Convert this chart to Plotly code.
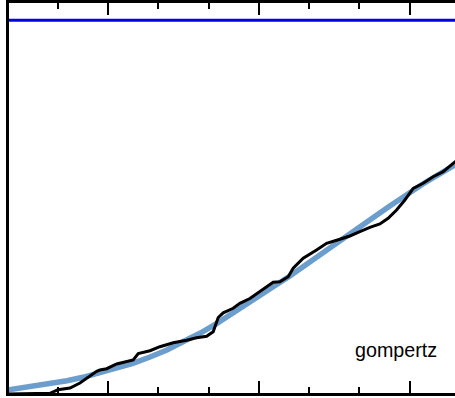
import plotly.graph_objects as go

# x in minor-tick units (left frame = 0), y as fraction (blue reference line = 1)
obs_x = [0.0, 0.447, 0.845, 1.004, 1.243, 1.441, 1.640, 1.773, 1.839, 1.972,
         2.171, 2.370, 2.501, 2.600, 2.700, 2.833, 3.032, 3.296, 3.563, 3.761,
         3.960, 4.091, 4.191, 4.290, 4.489, 4.622, 4.821, 4.986, 5.153, 5.284,
         5.417, 5.583, 5.682, 5.815, 5.881, 6.147, 6.346, 6.610, 6.809, 7.008,
         7.207, 7.406, 7.570, 7.738, 7.903, 8.068, 8.266, 8.465, 8.664, 8.863,
         9.0]
obs_y = [0.001, 0.001, 0.003, 0.0128, 0.0174, 0.0307, 0.0486, 0.0620, 0.0655, 0.0689,
         0.0815, 0.0868, 0.0922, 0.1095, 0.1120, 0.1170, 0.1277, 0.1384, 0.1448, 0.1515,
         0.1555, 0.1678, 0.2057, 0.2183, 0.2303, 0.2437, 0.2565, 0.2712, 0.2880, 0.2998,
         0.3014, 0.3147, 0.3372, 0.3560, 0.3639, 0.3861, 0.4040, 0.4147, 0.4235, 0.4350,
         0.4467, 0.4555, 0.4708, 0.4929, 0.5197, 0.5509, 0.5643, 0.5819, 0.5953, 0.6177,
         0.6320]

fit_x = [0.0, 0.507, 0.845, 1.183, 1.501, 1.839, 2.177, 2.495, 2.833, 3.171,
         3.489, 3.827, 4.165, 4.483, 5.020, 5.278, 5.616, 6.272, 6.948, 7.604,
         8.260, 8.897, 9.0]
fit_y = [0.0120, 0.0219, 0.0281, 0.0369, 0.0460, 0.0582, 0.0708, 0.0834, 0.1002, 0.1189,
         0.1411, 0.1635, 0.1902, 0.2169, 0.2658, 0.2872, 0.3166, 0.3807, 0.4422, 0.5036,
         0.5624, 0.6132, 0.6210]

ref_x = [0.0, 9.0]
ref_y = [1.0, 1.0]

label_text = "gompertz"
label_x = 7.735
label_y = 0.120

x_range = [0.03, 8.9]
y_range = [0.004, 1.046]

fig = go.Figure()
fig.add_trace(go.Scatter(x=ref_x, y=ref_y, mode="lines",
                         line=dict(color="#0000e6", width=3), showlegend=False))
fig.add_trace(go.Scatter(x=fit_x, y=fit_y, mode="lines",
                         line=dict(color="rgb(108,158,205)", width=5.5), showlegend=False))
fig.add_trace(go.Scatter(x=obs_x, y=obs_y, mode="lines",
                         line=dict(color="black", width=3), showlegend=False))

fig.add_annotation(x=label_x, y=label_y, xref="x", yref="y", text=label_text,
                   showarrow=False, xanchor="center", yanchor="middle",
                   font=dict(family="Liberation Sans, Arial, sans-serif", size=19.7, color="black"))

fig.update_layout(
    width=455, height=398,
    margin=dict(l=9, r=0, t=3, b=5),
    paper_bgcolor="white", plot_bgcolor="white",
    showlegend=False,
    xaxis=dict(range=x_range, showgrid=False, zeroline=False,
               showline=True, linecolor="black", linewidth=3,
               mirror="allticks", ticks="inside", ticklen=12, tickwidth=1.5,
               tickcolor="black", tick0=2, dtick=3, showticklabels=False,
               minor=dict(ticks="inside", dtick=1, tick0=0, ticklen=6,
                          tickwidth=1.5, tickcolor="black", showgrid=False)),
    yaxis=dict(range=y_range, showgrid=False, zeroline=False,
               showline=True, linecolor="black", linewidth=3,
               mirror=False, ticks="", showticklabels=False),
)

fig.write_html("out.html", config={"displayModeBar": False},
               post_script="document.body.style.margin='0';document.body.style.overflow='hidden';")
